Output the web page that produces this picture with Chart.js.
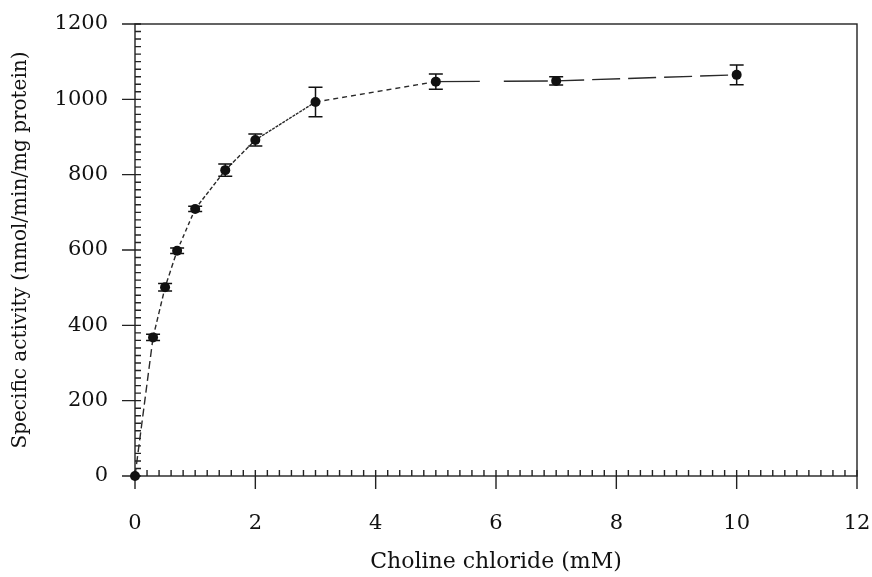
<!DOCTYPE html>
<html>
<head>
<meta charset="utf-8">
<script src="https://cdn.jsdelivr.net/npm/chart.js@4.4.1/dist/chart.umd.min.js"></script>
<style>
  html, body { margin: 0; padding: 0; background: #fff; }
  #wrap { width: 872px; height: 577px; }
</style>
</head>
<body>
<div id="wrap"><canvas id="activityChart" width="872" height="577"></canvas></div>
<script>
// Choline chloride concentration (mM)
const choline = [0, 0.3, 0.5, 0.7, 1, 1.5, 2, 3, 5, 7, 10];
// Specific activity (nmol/min/mg protein) and its +/- error
const activity = [0, 368, 501, 598, 709, 812, 892, 993, 1047, 1049, 1065];
const activityErr = [0, 8, 10, 7, 7, 16, 16, 39, 20, 11, 26];

const xTickValues = [0, 2, 4, 6, 8, 10, 12];
const yTickValues = [0, 200, 400, 600, 800, 1000, 1200];

// dash pattern of each segment, from point i to point i+1
const segmentDash = [[8, 4], [5, 3], [5, 3], [4, 3], [4, 2], [4, 2], [3, 1], [5, 4], [44, 24], [28, 8]];

const serif = "'DejaVu Serif', 'Liberation Serif', serif";
const ink = '#111';

// box round the plot plus inward minor ticks and outward major ticks
const frame = {
  id: 'frame',
  beforeDatasetsDraw(chart) {
    const { ctx, chartArea: a, scales: { x, y } } = chart;
    ctx.save();
    ctx.strokeStyle = '#222';
    ctx.lineWidth = 1.4;
    ctx.strokeRect(a.left, a.top, a.right - a.left, a.bottom - a.top);
    ctx.beginPath();
    for (let i = 0; i <= 60; i++) {
      const py = y.getPixelForValue(i * 20);
      const major = i % 10 === 0;
      ctx.moveTo(a.left + 6, py);
      ctx.lineTo(major ? a.left - 13 : a.left, py);
    }
    for (let i = 0; i <= 60; i++) {
      const px = x.getPixelForValue(i * 0.2);
      const major = i % 10 === 0;
      ctx.moveTo(px, a.bottom - 6);
      ctx.lineTo(px, major ? a.bottom + 13 : a.bottom);
    }
    ctx.stroke();
    ctx.restore();
  }
};

// vertical error bars with caps
const errorBars = {
  id: 'errorBars',
  afterDatasetsDraw(chart) {
    const { ctx, scales: { x, y } } = chart;
    ctx.save();
    ctx.strokeStyle = ink;
    ctx.lineWidth = 1.5;
    choline.forEach((c, i) => {
      const e = activityErr[i];
      if (!e) return;
      const px = x.getPixelForValue(c);
      const top = y.getPixelForValue(activity[i] + e);
      const bot = y.getPixelForValue(activity[i] - e);
      ctx.beginPath();
      ctx.moveTo(px, top); ctx.lineTo(px, bot);
      ctx.moveTo(px - 7, top); ctx.lineTo(px + 7, top);
      ctx.moveTo(px - 7, bot); ctx.lineTo(px + 7, bot);
      ctx.stroke();
    });
    ctx.restore();
  }
};

new Chart(document.getElementById('activityChart'), {
  type: 'line',
  data: {
    datasets: [{
      data: choline.map((c, i) => ({ x: c, y: activity[i] })),
      borderColor: '#2a2a2a',
      borderWidth: 1.4,
      pointRadius: 5,
      pointBackgroundColor: ink,
      pointBorderColor: ink,
      pointBorderWidth: 0,
      tension: 0,
      clip: false,
      segment: {
        borderDash: c => segmentDash[c.p0DataIndex]
      }
    }]
  },
  options: {
    responsive: false,
    animation: false,
    layout: { padding: { top: 24, right: 15, left: 0, bottom: 0 } },
    plugins: { legend: { display: false }, tooltip: { enabled: false } },
    scales: {
      x: {
        type: 'linear',
        min: 0,
        max: 12,
        grid: { display: false, drawTicks: false },
        border: { display: false },
        afterBuildTicks: s => { s.ticks = xTickValues.map(v => ({ value: v })); },
        afterFit: s => {
          s.height = 101;
          s.paddingLeft = 0;
          s.paddingRight = 0;
        },
        ticks: {
          padding: 35,
          color: ink,
          font: { family: serif, size: 21 },
          callback: v => String(v)
        },
        title: {
          display: true,
          text: 'Choline chloride (mM)',
          color: ink,
          font: { family: serif, size: 22 },
          padding: { top: 0, bottom: 2 }
        }
      },
      y: {
        type: 'linear',
        min: 0,
        max: 1200,
        grid: { display: false, drawTicks: false },
        border: { display: false },
        afterBuildTicks: s => { s.ticks = yTickValues.map(v => ({ value: v })); },
        afterFit: s => {
          s.width = 135;
          s.paddingTop = 0;
          s.paddingBottom = 0;
        },
        ticks: {
          padding: 27,
          color: ink,
          font: { family: serif, size: 21 },
          callback: v => String(v)
        },
        title: {
          display: true,
          text: 'Specific activity (nmol/min/mg protein)',
          color: ink,
          font: { family: serif, size: 20 },
          padding: { top: 9, bottom: 0 }
        }
      }
    }
  },
  plugins: [frame, errorBars]
});
</script>
</body>
</html>
